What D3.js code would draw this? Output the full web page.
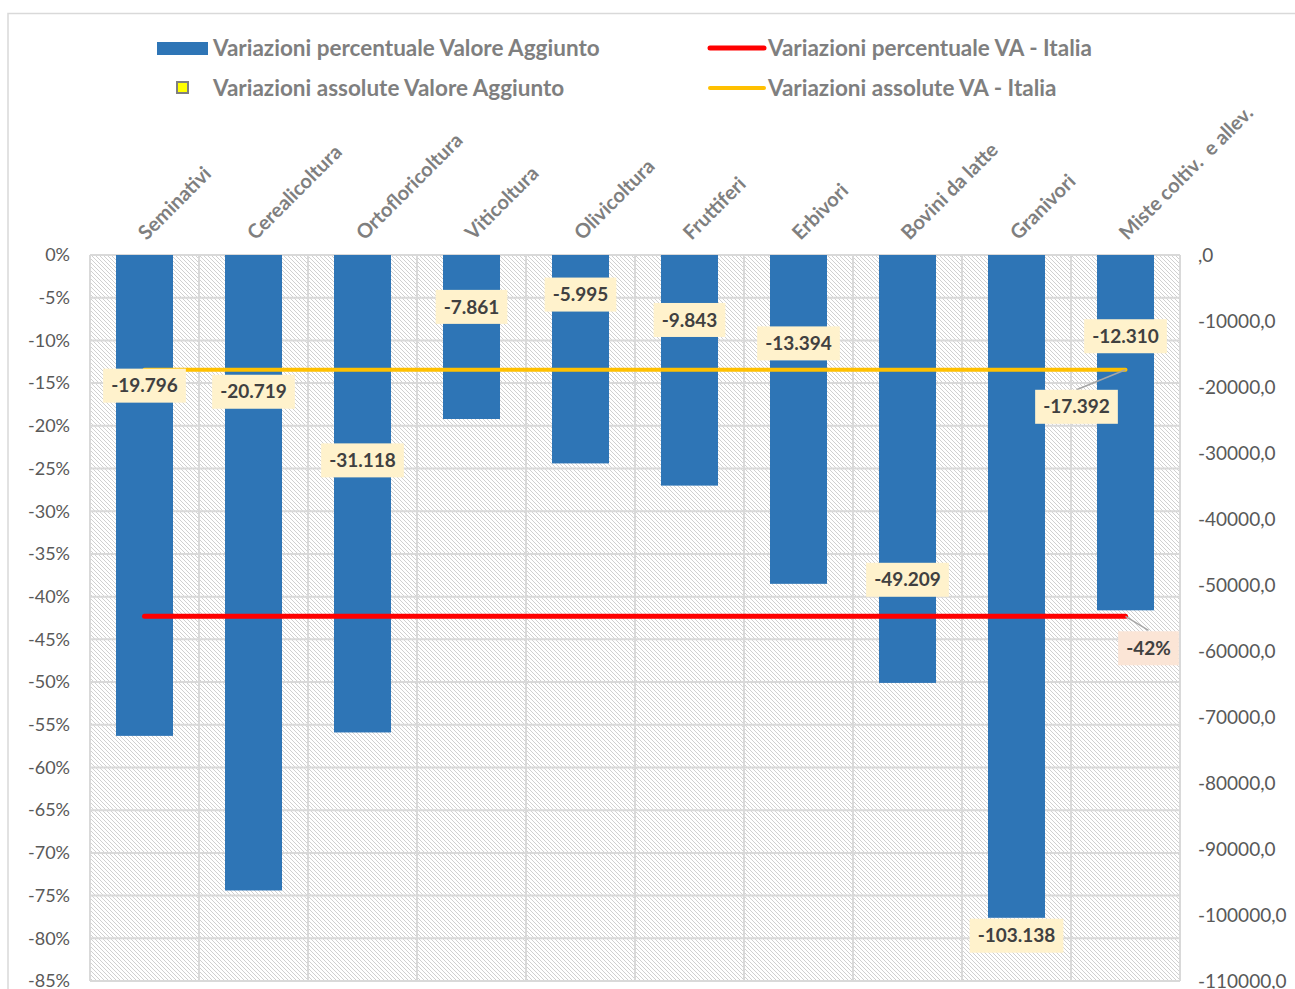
<!DOCTYPE html>
<html>
<head>
<meta charset="utf-8">
<script src="https://d3js.org/d3.v7.min.js"></script>
<style>
  body { margin: 0; background: #fff; }
  text { font-family: Lato, "Open Sans", sans-serif; }
</style>
</head>
<body>
<script>
// data
var categories = ["Seminativi", "Cerealicoltura", "Ortofloricoltura", "Viticoltura", "Olivicoltura",
                  "Fruttiferi", "Erbivori", "Bovini da latte", "Granivori", "Miste coltiv.  e allev."];
var varPerc = [-56.3, -74.4, -55.9, -19.2, -24.4, -27.0, -38.5, -50.1, -77.6, -41.6];
var varAss = [-19796, -20719, -31118, -7861, -5995, -9843, -13394, -49209, -103138, -12310];
var italiaPerc = -42.3;
var italiaAss = -17392;
var leftTicks = d3.range(0, -86, -5);
var rightTicks = d3.range(0, -110001, -10000);

var W = 1295, H = 989;
var pLeft = 90, pRight = 1180, pTop = 255, pBottom = 981;

var svg = d3.select("body").append("svg")
    .attr("width", W).attr("height", H);

var defs = svg.append("defs");
var pat = defs.append("pattern")
    .attr("id", "hatch")
    .attr("patternUnits", "userSpaceOnUse")
    .attr("width", 4).attr("height", 4);
pat.append("rect").attr("width", 4).attr("height", 4).attr("fill", "#fff");
pat.append("path")
    .attr("d", "M-1,-1 L5,5 M-1,3 L1,5 M3,-1 L5,1")
    .attr("stroke", "#d0d0d0").attr("stroke-width", 1);

// chart frame
svg.append("path")
    .attr("d", "M8," + H + " L8,13.5 L" + W + ",13.5")
    .attr("fill", "none").attr("stroke", "#d9d9d9").attr("stroke-width", 1.5);

var x = d3.scaleBand().domain(categories).range([pLeft, pRight])
    .paddingInner(0.477).paddingOuter(0.2385);
var yL = d3.scaleLinear().domain([0, -85]).range([pTop, pBottom]);
var yR = d3.scaleLinear().domain([0, -110000]).range([pTop, pBottom]);
var cx = function (c) { return x(c) + x.bandwidth() / 2; };

// plot background
svg.append("rect")
    .attr("x", pLeft).attr("y", pTop)
    .attr("width", pRight - pLeft).attr("height", pBottom - pTop)
    .attr("fill", "url(#hatch)");

// gridlines
svg.append("g").selectAll("line").data(leftTicks).enter().append("line")
    .attr("x1", pLeft).attr("x2", pRight)
    .attr("y1", function (d) { return yL(d); }).attr("y2", function (d) { return yL(d); })
    .attr("stroke", "#d9d9d9").attr("stroke-width", 2);
var bounds = d3.range(categories.length + 1).map(function (i) { return pLeft + i * x.step(); });
svg.append("g").selectAll("line").data(bounds).enter().append("line")
    .attr("x1", function (d) { return d; }).attr("x2", function (d) { return d; })
    .attr("y1", pTop).attr("y2", pBottom)
    .attr("stroke", "#d9d9d9").attr("stroke-width", 2);

// bars
svg.append("g").selectAll("rect").data(categories).enter().append("rect")
    .attr("x", function (c) { return x(c); })
    .attr("y", yL(0))
    .attr("width", x.bandwidth())
    .attr("height", function (c, i) { return yL(varPerc[i]) - yL(0); })
    .attr("fill", "#2e75b6");

// Italia lines
var first = cx(categories[0]), last = cx(categories[categories.length - 1]);
svg.append("line")
    .attr("x1", first).attr("x2", last)
    .attr("y1", yL(italiaPerc)).attr("y2", yL(italiaPerc))
    .attr("stroke", "#ff0000").attr("stroke-width", 5).attr("stroke-linecap", "round");
svg.append("line")
    .attr("x1", first).attr("x2", last)
    .attr("y1", yR(italiaAss)).attr("y2", yR(italiaAss))
    .attr("stroke", "#ffc000").attr("stroke-width", 4).attr("stroke-linecap", "round");

// axis tick labels
var itFmt = function (v) {
  return d3.format(",.0f")(v).replace(/,/g, ".").replace("−", "-");
};
svg.append("g").selectAll("text").data(leftTicks).enter().append("text")
    .attr("x", 70).attr("y", function (d) { return yL(d); })
    .attr("dy", "0.35em").attr("text-anchor", "end")
    .attr("font-size", 18).attr("fill", "#595959")
    .text(function (d) { return d + "%"; });
svg.append("g").selectAll("text").data(rightTicks).enter().append("text")
    .attr("x", 1198).attr("y", function (d) { return yR(d); })
    .attr("dy", "0.35em").attr("text-anchor", "start")
    .attr("font-size", 19).attr("fill", "#595959")
    .text(function (d) { return d === 0 ? ",0" : d + ",0"; });

// category labels
svg.append("g").selectAll("text").data(categories).enter().append("text")
    .attr("transform", function (c) { return "translate(" + (cx(c) + 2) + "," + 241 + ") rotate(-45)"; })
    .attr("text-anchor", "start")
    .attr("font-size", 20).attr("font-weight", 700).attr("fill", "#7f7f7f")
    .style("white-space", "pre")
    .text(function (c) { return c; });

// data labels for absolute values
function label(g, px, py, txt, fill) {
  var t = g.append("text")
      .attr("x", px).attr("y", py).attr("dy", "0.35em")
      .attr("text-anchor", "middle")
      .attr("font-size", 19).attr("font-weight", 700).attr("fill", "#404040")
      .text(txt);
  var bb = t.node().getBBox();
  g.insert("rect", "text")
      .attr("x", px - bb.width / 2 - 8).attr("y", py - 17)
      .attr("width", bb.width + 16).attr("height", 34)
      .attr("fill", fill);
}
var lg = svg.append("g");
categories.forEach(function (c, i) {
  label(lg.append("g"), cx(c), yR(varAss[i]), itFmt(varAss[i]), "#fff2cc");
});

// Italia labels with leader lines
var ya = yR(italiaAss);
lg.append("line").attr("x1", last).attr("y1", ya).attr("x2", last - 49).attr("y2", ya + 20)
    .attr("stroke", "#a6a6a6").attr("stroke-width", 1.5);
label(lg.append("g"), last - 49, ya + 37, itFmt(italiaAss), "#fff2cc");
var yp = yL(italiaPerc);
lg.append("line").attr("x1", last).attr("y1", yp).attr("x2", last + 23).attr("y2", yp + 14)
    .attr("stroke", "#a6a6a6").attr("stroke-width", 1.5);
label(lg.append("g"), last + 23, yp + 32, Math.round(italiaPerc) + "%", "#fbe5d6");

// legend
var leg = svg.append("g").attr("font-size", 22.5).attr("font-weight", 700).attr("fill", "#7f7f7f");
leg.append("rect").attr("x", 157).attr("y", 42).attr("width", 51).attr("height", 13).attr("fill", "#2e75b6");
leg.append("text").attr("x", 213).attr("y", 48).attr("dy", "0.35em").text("Variazioni percentuale Valore Aggiunto");
leg.append("rect").attr("x", 177).attr("y", 82).attr("width", 11).attr("height", 11)
    .attr("fill", "#ffff00").attr("stroke", "#7f7f7f").attr("stroke-width", 2);
leg.append("text").attr("x", 213).attr("y", 88).attr("dy", "0.35em").text("Variazioni assolute Valore Aggiunto");
leg.append("line").attr("x1", 710).attr("x2", 764).attr("y1", 48).attr("y2", 48)
    .attr("stroke", "#ff0000").attr("stroke-width", 5).attr("stroke-linecap", "round");
leg.append("text").attr("x", 768).attr("y", 48).attr("dy", "0.35em").text("Variazioni percentuale VA - Italia");
leg.append("line").attr("x1", 710).attr("x2", 764).attr("y1", 88).attr("y2", 88)
    .attr("stroke", "#ffc000").attr("stroke-width", 4).attr("stroke-linecap", "round");
leg.append("text").attr("x", 768).attr("y", 88).attr("dy", "0.35em").text("Variazioni assolute VA - Italia");
</script>
</body>
</html>
